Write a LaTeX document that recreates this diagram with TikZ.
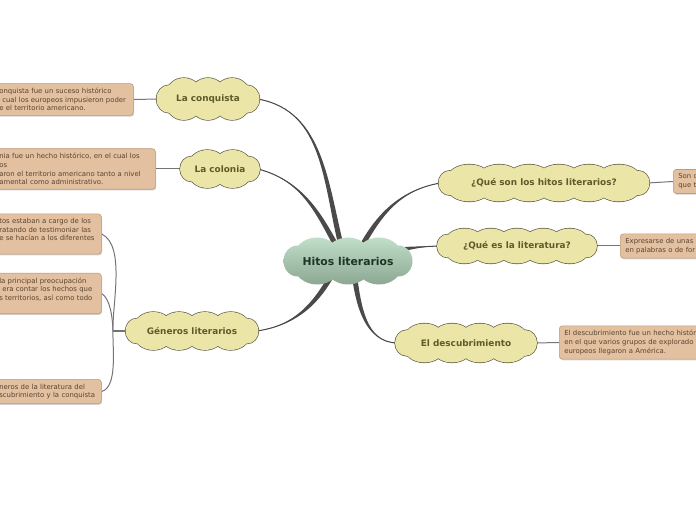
\documentclass[tikz,border=0pt]{standalone}
\usepackage{fontspec}
\setmainfont{DejaVu Sans}
\usetikzlibrary{shapes.geometric,shadows,calc}

\definecolor{rootTop}{HTML}{C0DEC8}
\definecolor{rootBottom}{HTML}{8CA892}
\definecolor{rootText}{HTML}{1E3526}
\definecolor{cloudFill}{HTML}{EBE6A7}
\definecolor{cloudLine}{HTML}{56553F}
\definecolor{cloudText}{HTML}{5E5A2A}
\definecolor{noteFill}{HTML}{E3C09F}
\definecolor{noteLine}{HTML}{BE9B79}
\definecolor{noteText}{HTML}{5A4532}
\definecolor{branchGray}{HTML}{4A4A4A}
\definecolor{edgeGray}{HTML}{747474}

\pgfdeclarelayer{edges}
\pgfdeclarelayer{clouds}
\pgfsetlayers{edges,clouds,main}

\begin{document}
\begin{tikzpicture}[
    x=1pt, y=1pt,
    % Cloud made of puffs: width, height, puffs per row, look
    pics/puffs/.style n args={4}{code={
        \pgfmathsetmacro{\hw}{#1/2}
        \pgfmathsetmacro{\pRy}{0.42*#2}
        \pgfmathsetmacro{\rowY}{#2/2-\pRy}
        \pgfmathsetmacro{\eRx}{0.3*#2}
        \pgfmathsetmacro{\eRy}{0.33*#2}
        \pgfmathsetmacro{\xr}{(\hw-0.22*#2)/(1+1.5/(#3-1))}
        \pgfmathsetmacro{\pSep}{2*\xr/(#3-1)}
        \pgfmathsetmacro{\pRx}{0.75*\pSep}
        \pgfmathtruncatemacro{\last}{#3-1}
        \path[#4] (-\hw+\eRx,0) ellipse [x radius=\eRx, y radius=\eRy]
            (\hw-\eRx,0) ellipse [x radius=\eRx, y radius=\eRy]
            \foreach \i in {0,...,\last} {
                ({-\xr+\i*\pSep},\rowY) ellipse [x radius=\pRx, y radius=\pRy]
                ({-\xr+\i*\pSep},-\rowY) ellipse [x radius=\pRx, y radius=\pRy]
            };
    }},
    % Looks of the clouds
    rootCloud/.style={top color=rootTop, bottom color=rootBottom},
    topicCloud/.style={fill=cloudFill, preaction={draw=cloudLine, line width=1.3pt}},
    % Central topic of the map
    rootNode/.style={
        ellipse, inner sep=0pt,
        text=rootText,
        font=\fontsize{10.8}{12}\selectfont\bfseries
    },
    % Main topics around it
    topicNode/.style={
        ellipse, inner sep=0pt,
        text=cloudText,
        font=\fontsize{8.9}{10}\selectfont\bfseries
    },
    % Notes hanging from the topics
    noteNode/.style={
        rectangle, rounded corners=3pt,
        draw=noteLine, line width=0.6pt,
        fill=noteFill, text=noteText,
        font=\fontsize{6.9}{8.7}\selectfont,
        align=left, inner xsep=5pt, inner ysep=4.4pt,
        drop shadow={shadow xshift=0.8pt, shadow yshift=-1.2pt, opacity=0.35}
    },
    % Connections
    branchFill/.style={fill=branchGray},
    branchEdge/.style={draw=branchGray, line width=1pt, line cap=round},
    noteEdge/.style={draw=edgeGray, line width=1pt}
]

    \useasboundingbox (0,0) rectangle (696,520);

    % --- TOPICS ---
    \node[rootNode, minimum width=125, minimum height=43] (root) at (348,259) {Hitos literarios};

    \node[topicNode, minimum width=99, minimum height=38] (conq) at (208,421) {La conquista};
    \node[topicNode, minimum width=76, minimum height=34] (colo) at (220,351) {La colonia};
    \node[topicNode, minimum width=129, minimum height=34] (gen) at (192,189) {Géneros literarios};
    \node[topicNode, minimum width=207, minimum height=33] (hitos) at (544,337) {¿Qué son los hitos literarios?};
    \node[topicNode, minimum width=156, minimum height=31] (lit) at (517,274) {¿Qué es la literatura?};
    \node[topicNode, minimum width=138, minimum height=35] (desc) at (466,177) {El descubrimiento};

    % Cloud outlines behind the titles
    \begin{pgfonlayer}{clouds}
        \pic at (root) {puffs={129}{47}{3}{rootCloud}};
        \foreach \n/\w/\h/\k in {conq/103/42/3, colo/80/38/2, gen/133/38/4,
                                 hitos/211/37/6, lit/160/35/5, desc/142/39/4} {
            \pic at (\n) {puffs={\w}{\h}{\k}{topicCloud}};
        }
    \end{pgfonlayer}

    % --- NOTES ---
    % Left side (cut by the page edge)
    \node[noteNode, anchor=west, text width=129] (conqNote) at (-6,420.5)
        {onquista fue un suceso histórico\\\hspace{3pt}cual los europeos impusieron poder\\e el territorio americano.};
    \node[noteNode, anchor=west, text width=151] (coloNote) at (-6,351)
        {nia fue un hecho histórico, en el cual los\\os\\aron el territorio americano tanto a nivel\\amental como administrativo.};
    \node[noteNode, anchor=west, text width=97] (genNoteA) at (-6,286)
        {tos estaban a cargo de los\\ratando de testimoniar las\\e se hacían a los diferentes\\\mbox{}};
    \node[noteNode, anchor=west, text width=97] (genNoteB) at (-6,226.5)
        {la principal preocupación\\\hspace{3pt}era contar los hechos que\\s territorios, así como todo\\\mbox{}};
    \node[noteNode, anchor=west, text width=97] (genNoteC) at (-6,128.5)
        {neros de la literatura del\\scubrimiento y la conquista};

    % Right side (cut by the page edge)
    \node[noteNode, anchor=west, text width=120] (hitosNote) at (673,338.5) {Son c\\que t};
    \node[noteNode, anchor=west, text width=120] (litNote) at (620,274) {Expresarse de unas\\en palabras o de for};
    \node[noteNode, anchor=west, text width=160] (descNote) at (559,177.5)
        {El descubrimiento fue un hecho históri\\en el que varios grupos de explorado\\europeos llegaron a América.};

    \coordinate (genJoin) at (113,189);

    % --- EDGES ---
    \begin{pgfonlayer}{edges}
        % Tapered branches from the central topic
        \foreach \dx/\dy/\target/\a/\b in {
            -5/8/conq.east/105/-10,
            -8/8/colo.east/118/-15,
            -14/-10/gen.east/-118/8,
            10/8/hitos.west/62/190,
            38/9/lit.west/10/182,
            6/-12/desc.west/-82/178} {
            \fill[branchFill] ($(root.center)+(\dx,\dy)+({\a+90}:2.6)$) to[out=\a,in=\b] (\target)
                to[out=\b,in=\a] ($(root.center)+(\dx,\dy)+({\a-90}:2.6)$) -- cycle;
            \draw[branchEdge] ($(root.center)+(\dx,\dy)$) to[out=\a,in=\b] (\target);
        }

        % Topic to note
        \draw[noteEdge] (conq.west) -- (conqNote.east);
        \draw[noteEdge] (colo.west) -- (coloNote.east);
        \draw[noteEdge] (hitos.east) -- (hitosNote.west);
        \draw[noteEdge] (lit.east) -- (litNote.west);
        \draw[noteEdge] (desc.east) -- (descNote.west);

        % Fork of the genres
        \draw[noteEdge, line width=1.5pt] (gen.west) -- (genJoin);
        \draw[noteEdge] (genJoin) to[out=92,in=-25,looseness=0.7] (genNoteA.east);
        \draw[noteEdge] (genJoin) to[out=92,in=-30,looseness=0.7] (genNoteB.east);
        \draw[noteEdge] (genJoin) to[out=-92,in=15,looseness=0.7] (genNoteC.east);
    \end{pgfonlayer}

\end{tikzpicture}
\end{document}
